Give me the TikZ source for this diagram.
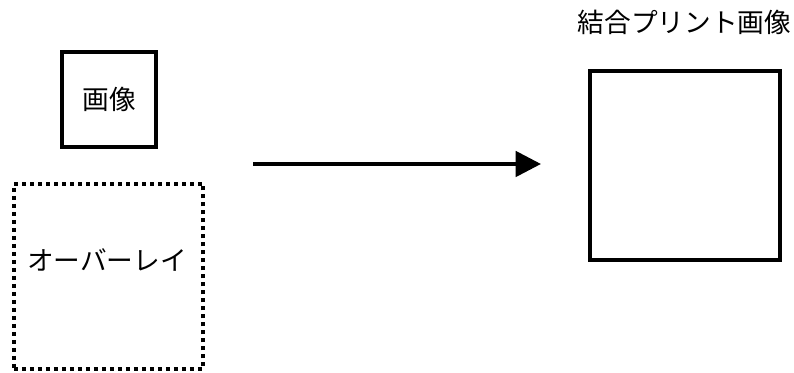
\documentclass[tikz,border=0pt]{standalone}
\usepackage{fontspec}
\setmainfont{Noto Sans CJK JP}
\usepackage{tikz}
\usetikzlibrary{arrows.meta, positioning}
\definecolor{ink}{RGB}{0, 0, 0}

\begin{document}
\begin{tikzpicture}[x=0.75pt, y=-0.75pt,
  imgbox/.style={draw=ink, line width=2.8pt, minimum size=#1, inner sep=0pt},
  dotbox/.style={draw=ink, line width=3pt, dash pattern=on 3pt off 3pt, minimum width=142pt, minimum height=139pt, inner sep=0pt},
  lbl/.style={font=\fontsize{20}{22}\selectfont, inner sep=0pt}]
  \useasboundingbox (0,0) rectangle (794,373);
  % left side: image and overlay
  \node[imgbox=71pt] (image) at (109,99.5) {};
  \node[lbl] (imagetext) at (109,99) {画像};
  \node[dotbox] (overlay) at (108.5,276.5) {};
  \node[lbl] (overlaytext) at (107,260) {オーバーレイ};
  % right side: combined print
  \node[imgbox=142pt] (combined) at (685,165.5) {};
  \node[lbl] (combinedtext) at (684.5,22) {結合プリント画像};
  % arrow
  \coordinate (arrowstart) at (253,164);
  \coordinate (arrowend) at (541,164);
  \draw[ink, line width=2.8pt, -{Triangle[length=19pt, width=19pt]}] (arrowstart) -- (arrowend);
\end{tikzpicture}
\end{document}
